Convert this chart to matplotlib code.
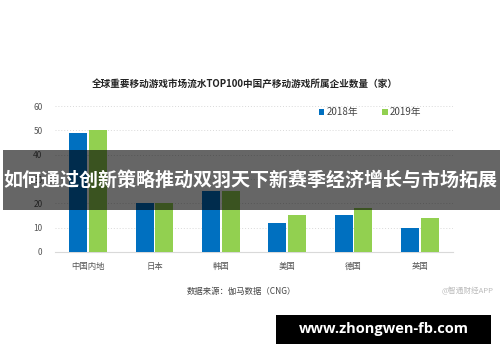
import numpy as np
import matplotlib.pyplot as plt
from matplotlib.patches import Rectangle

plt.rcParams['font.family'] = ['Noto Sans CJK SC', 'DejaVu Sans']

# data
categories = ['中国内地', '日本', '韩国', '美国', '德国', '英国']
y2018 = [49, 20, 25, 12, 15, 10]
y2019 = [50, 20, 25, 15, 18, 14]
yticks = [0, 10, 20, 30, 40, 50, 60]

fig = plt.figure(figsize=(5, 3.62), dpi=100)
ax = fig.add_axes([0.11, 0.304, 0.796, 0.403])

x = np.arange(len(categories))
w = 0.27
ax.bar(x - w / 2 - 0.015, y2018, w, color='#0070C0', label='2018年', zorder=3)
ax.bar(x + w / 2 + 0.015, y2019, w, color='#92D050', label='2019年', zorder=3)

ax.set_xlim(-0.5, len(categories) - 0.5)
ax.set_ylim(0, 60)
ax.set_yticks(yticks)
ax.set_xticks(x)
ax.set_xticklabels(categories)
ax.tick_params(axis='both', length=0, labelsize=6, colors='#555555')
ax.tick_params(axis='x', pad=7)
ax.tick_params(axis='y', pad=9)
ax.grid(axis='y', color='#d9d9d9', linestyle=(0, (1, 2)), linewidth=0.7, zorder=0)
for s in ['top', 'right', 'left']:
    ax.spines[s].set_visible(False)
ax.spines['bottom'].set_color('#d9d9d9')

ax.legend(loc='center', bbox_to_anchor=(0.74, 0.69), bbox_transform=fig.transFigure,
          ncol=2, frameon=False, fontsize=7, handlelength=0.6, handleheight=0.6,
          handletextpad=0.2, columnspacing=2.5, labelcolor='#444444')

fig.text(0.49, 0.765, '全球重要移动游戏市场流水TOP100中国产移动游戏所属企业数量（家）',
         ha='center', va='center', fontsize=6.9, fontweight='bold', color='#222222')
fig.text(0.482, 0.196, '数据来源：伽马数据（CNG）', ha='center', va='center',
         fontsize=6, color='#444444')
fig.text(0.935, 0.196, '@智通财经APP', ha='center', va='center',
         fontsize=5.5, color='#bbbbbb')

# overlay banner
fig.patches.append(Rectangle((0.006, 0.42), 0.994, 0.166, transform=fig.transFigure,
                             facecolor='black', alpha=0.6, zorder=10))
fig.text(0.5, 0.503, '如何通过创新策略推动双羽天下新赛季经济增长与市场拓展',
         ha='center', va='center', fontsize=13.7, fontweight='bold', color='white', zorder=11)

fig.patches.append(Rectangle((0.552, 0.05), 0.43, 0.08, transform=fig.transFigure,
                             facecolor='black', zorder=10))
fig.text(0.767, 0.09, 'www.zhongwen-fb.com', ha='center', va='center',
         fontsize=10.5, fontweight='bold', color='white', zorder=11,
         family=['Open Sans', 'DejaVu Sans'])

fig.savefig('out.png', dpi=100)
